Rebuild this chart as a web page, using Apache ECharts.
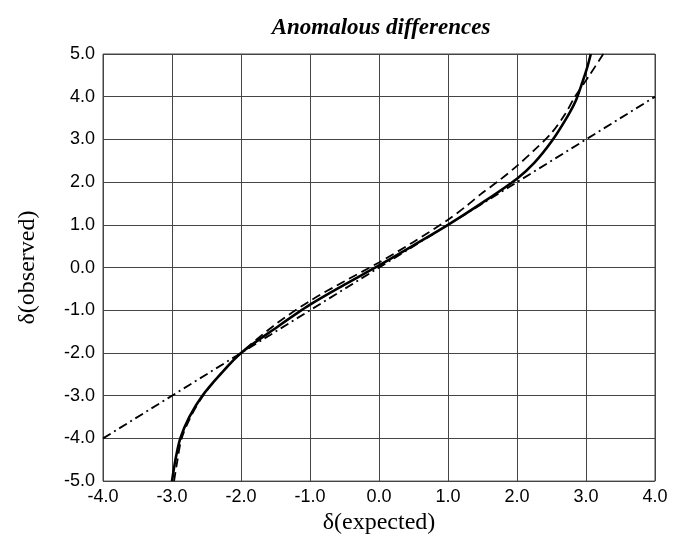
<!DOCTYPE html>
<html>
<head>
<meta charset="utf-8">
<script src="https://cdn.jsdelivr.net/npm/echarts@6/dist/echarts.min.js"></script>
<style>html,body{margin:0;padding:0;background:#fff}#c{width:675px;height:540px}</style>
</head>
<body>
<div id="c"></div>
<script>
// Observed distribution (solid)
const observedX = [-3.00, -2.95, -2.88, -2.75, -2.56, -2.30, -2.00, -1.50, -1.00, -0.50, 0.00, 0.50, 1.00, 1.50, 2.00, 2.25, 2.50, 2.70, 2.85, 2.95, 3.02, 3.07];
const observedY = [-5.0, -4.5, -4.0, -3.5, -3.0, -2.5, -2.0, -1.42, -0.87, -0.40, 0.05, 0.52, 1.00, 1.52, 2.08, 2.45, 2.95, 3.45, 3.90, 4.35, 4.70, 5.0];
// Theoretical curve (dashed)
const dashedX = [-2.97, -2.92, -2.86, -2.73, -2.55, -2.30, -2.00, -1.50, -1.00, -0.50, 0.00, 0.50, 1.00, 1.25, 1.50, 1.75, 2.00, 2.25, 2.50, 2.70, 2.84, 3.05, 3.25];
const dashedY = [-5.0, -4.5, -4.0, -3.5, -3.0, -2.5, -2.0, -1.33, -0.78, -0.32, 0.12, 0.60, 1.12, 1.42, 1.75, 2.05, 2.38, 2.75, 3.15, 3.60, 4.00, 4.50, 5.0];
// Identity line (dash-dot)
const identityX = [-4.0, 4.0];
const identityY = [-4.0, 4.0];

const xTicks = [-4, -3, -2, -1, 0, 1, 2, 3, 4];
const yTicks = [-5, -4, -3, -2, -1, 0, 1, 2, 3, 4, 5];

const zip = (a, b) => a.map((v, i) => [v, b[i]]);

const chart = echarts.init(document.getElementById('c'), null, {renderer: 'canvas'});
chart.setOption({
  backgroundColor: '#fff',
  animation: false,
  title: {
    text: 'Anomalous differences',
    left: 376, top: 12, textAlign: 'center',
    textStyle: {fontFamily: 'Liberation Serif', fontStyle: 'italic', fontWeight: 'bold', fontSize: 23, color: '#000'}
  },
  grid: {left: 103, right: 20, top: 54, bottom: 55, show: true, borderColor: '#444', borderWidth: 1},
  xAxis: {
    type: 'value', min: xTicks[0], max: xTicks[xTicks.length - 1], interval: 1,
    name: 'δ(expected)', nameLocation: 'middle', nameGap: 27,
    nameTextStyle: {fontFamily: 'Liberation Serif', fontSize: 24, color: '#000'},
    axisLine: {show: false}, axisTick: {show: false},
    axisLabel: {formatter: v => v.toFixed(1), fontFamily: 'Liberation Sans', fontSize: 18, color: '#000', margin: 7},
    splitLine: {show: true, lineStyle: {color: '#444', width: 1}}
  },
  yAxis: {
    type: 'value', min: yTicks[0], max: yTicks[yTicks.length - 1], interval: 1,
    name: 'δ(observed)', nameLocation: 'middle', nameGap: 63,
    nameTextStyle: {fontFamily: 'Liberation Serif', fontSize: 24, color: '#000'},
    axisLine: {show: false}, axisTick: {show: false},
    axisLabel: {formatter: v => v.toFixed(1), fontFamily: 'Liberation Sans', fontSize: 18, color: '#000', margin: 8},
    splitLine: {show: true, lineStyle: {color: '#444', width: 1}}
  },
  series: [
    {type: 'line', data: zip(identityX, identityY), showSymbol: false, clip: true,
     lineStyle: {color: '#000', width: 1.8, type: [9, 4, 2, 4]}},
    {type: 'line', data: zip(dashedX, dashedY), showSymbol: false, smooth: 0.3, clip: true,
     lineStyle: {color: '#000', width: 1.8, type: [9, 5]}},
    {type: 'line', data: zip(observedX, observedY), showSymbol: false, smooth: 0.3, clip: true,
     lineStyle: {color: '#000', width: 2.6, type: 'solid'}}
  ]
});
</script>
</body>
</html>
